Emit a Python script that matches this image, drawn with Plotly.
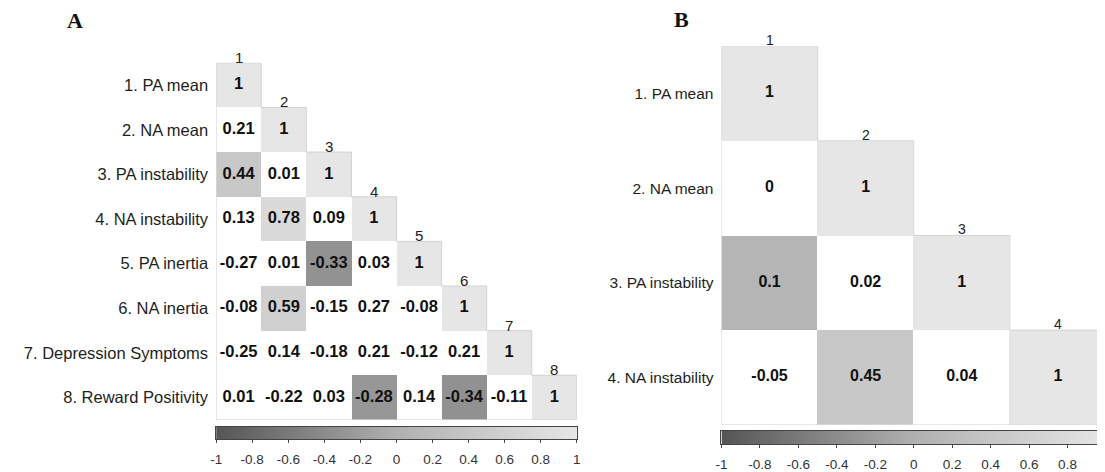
import numpy as np
import plotly.graph_objects as go

# ---------------- data ----------------
labels_a = ["1. PA mean", "2. NA mean", "3. PA instability", "4. NA instability",
            "5. PA inertia", "6. NA inertia", "7. Depression Symptoms", "8. Reward Positivity"]
corr_a = [
    [1],
    [0.21, 1],
    [0.44, 0.01, 1],
    [0.13, 0.78, 0.09, 1],
    [-0.27, 0.01, -0.33, 0.03, 1],
    [-0.08, 0.59, -0.15, 0.27, -0.08, 1],
    [-0.25, 0.14, -0.18, 0.21, -0.12, 0.21, 1],
    [0.01, -0.22, 0.03, -0.28, 0.14, -0.34, -0.11, 1],
]
# 1 = cell shaded (significant), 0 = left white
sig_a = [
    [1],
    [0, 1],
    [1, 0, 1],
    [0, 1, 0, 1],
    [0, 0, 1, 0, 1],
    [0, 1, 0, 0, 0, 1],
    [0, 0, 0, 0, 0, 0, 1],
    [0, 0, 0, 1, 0, 1, 0, 1],
]

labels_b = ["1. PA mean", "2. NA mean", "3. PA instability", "4. NA instability"]
corr_b = [
    [1],
    [0, 1],
    [0.1, 0.02, 1],
    [-0.05, 0.45, 0.04, 1],
]
sig_b = [
    [1],
    [0, 1],
    [1, 0, 1],
    [0, 1, 0, 1],
]

cbar_ticks = [-1, -0.8, -0.6, -0.4, -0.2, 0, 0.2, 0.4, 0.6, 0.8, 1]

# ---------------- style ----------------
PAGE_W, PAGE_H = 1105, 472
OFF = 8  # default page body margin of the browser
W, H = PAGE_W - OFF, PAGE_H - OFF
SANS = "Liberation Sans, Arial, sans-serif"
SERIF = "Liberation Serif, Times New Roman, serif"
GRAYSCALE = [[0.0, "#555555"], [0.5, "#b0b0b0"], [1.0, "#e6e6e6"]]


def fx(px):
    return (px - OFF) / W


def fy(py):
    return 1 - (py - OFF) / H


fig = go.Figure()
annotations = []


def add_panel(idx, labels, corr, sig, x0, x1, y0, y1, cell_w, cb_y0, cb_y1,
              lab_size, txt_size, num_size, num_shift):
    n = len(labels)
    xa = "x" if idx == 1 else f"x{idx}"
    ya = "y" if idx == 1 else f"y{idx}"
    cx = "x" + str(idx + 1)
    cy = "y" + str(idx + 1)

    z = [[None] * n for _ in range(n)]
    tx, ty, tt = [], [], []
    for i in range(n):
        for j in range(i + 1):
            v = corr[i][j]
            if sig[i][j]:
                z[i][j] = v
            tx.append(j)
            ty.append(i)
            tt.append(f"{v:g}")

    fig.add_trace(go.Heatmap(z=z, x=list(range(n)), y=list(range(n)), colorscale=GRAYSCALE,
                             zmin=-1, zmax=1, showscale=False, hoverinfo="skip",
                             xaxis=xa, yaxis=ya))
    # staircase outline of the lower triangle
    px_, py_ = [-0.5], [-0.5]
    for i in range(n):
        px_ += [i + 0.5, i + 0.5]
        py_ += [i - 0.5, i + 0.5]
    px_ += [-0.5, -0.5]
    py_ += [n - 0.5, -0.5]
    fig.add_trace(go.Scatter(x=px_, y=py_, mode="lines", line=dict(color="#d2d2d2", width=1),
                             hoverinfo="skip", showlegend=False, xaxis=xa, yaxis=ya))
    fig.add_trace(go.Scatter(x=tx, y=ty, mode="text", text=tt,
                             textfont=dict(family=SANS, size=txt_size, color="#111111", weight="bold"),
                             hoverinfo="skip", showlegend=False, xaxis=xa, yaxis=ya))

    xr_end = -0.5 + (x1 - x0) / cell_w
    lay_x = dict(domain=[fx(x0), fx(x1)], range=[-0.5, xr_end], anchor=ya,
                 showticklabels=False, showgrid=False, zeroline=False, showline=False,
                 fixedrange=True)
    lay_y = dict(domain=[fy(y1), fy(y0)], range=[n - 0.5, -0.5], anchor=xa,
                 tickmode="array", tickvals=list(range(n)), ticktext=labels,
                 tickfont=dict(family=SANS, size=lab_size, color="#1e1e1e"),
                 ticks="", ticklabelstandoff=7, showgrid=False, zeroline=False,
                 showline=False, fixedrange=True)
    fig.layout[("xaxis" if idx == 1 else f"xaxis{idx}")] = lay_x
    fig.layout[("yaxis" if idx == 1 else f"yaxis{idx}")] = lay_y

    for i in range(n):
        annotations.append(dict(x=i, y=i - 0.5, xref=xa, yref=ya, text=str(i + 1),
                                showarrow=False, yanchor="bottom", yshift=num_shift,
                                font=dict(family=SANS, size=num_size, color="#222222")))

    # colour bar as a gradient strip on its own axis
    edges = np.linspace(-1, 1, 257)
    mids = (edges[:-1] + edges[1:]) / 2
    fig.add_trace(go.Heatmap(z=[mids], x=edges, y=[0, 1], colorscale=GRAYSCALE, zmin=-1, zmax=1,
                             showscale=False, hoverinfo="skip", xaxis=cx, yaxis=cy))
    full_w = n * cell_w  # colour bar spans the full matrix width
    cb_end = -1 + 2 * (x1 - x0) / full_w
    clipped = cb_end < 0.999
    fig.layout["xaxis" + str(idx + 1)] = dict(
        domain=[fx(x0), fx(x1)], range=[-1, cb_end], anchor=cy,
        tickmode="array", tickvals=cbar_ticks, ticktext=[f"{t:g}" for t in cbar_ticks],
        ticks="outside", ticklen=3, tickcolor="#444444", tickwidth=1,
        ticklabelstandoff=4,
        tickfont=dict(family=SANS, size=13.5, color="#333333"),
        showline=True, linecolor="#444444", linewidth=1, mirror=True,
        showgrid=False, zeroline=False, fixedrange=True)
    fig.layout["yaxis" + str(idx + 1)] = dict(
        domain=[fy(cb_y1), fy(cb_y0)], range=[0, 1], anchor=cx,
        showticklabels=False, ticks="", showgrid=False, zeroline=False,
        showline=True, linecolor="#444444", linewidth=1, mirror=not clipped,
        fixedrange=True)


add_panel(1, labels_a, corr_a, sig_a, 212, 576, 64, 429, 45.5, 436, 449,
          lab_size=16.5, txt_size=16.5, num_size=15, num_shift=-5)
add_panel(3, labels_b, corr_b, sig_b, 722, 1105, 47, 434, 97, 440, 454,
          lab_size=15.5, txt_size=16, num_size=14, num_shift=-4)

annotations.append(dict(x=fx(70), y=fy(21), xref="paper", yref="paper", text="<b>A</b>",
                        showarrow=False, xanchor="center", yanchor="middle",
                        font=dict(family=SERIF, size=22, color="#111111")))
annotations.append(dict(x=fx(682), y=fy(20), xref="paper", yref="paper", text="<b>B</b>",
                        showarrow=False, xanchor="center", yanchor="middle",
                        font=dict(family=SERIF, size=22, color="#111111")))

fig.update_layout(width=W, height=H, margin=dict(l=0, r=0, t=0, b=0),
                  paper_bgcolor="white", plot_bgcolor="white", showlegend=False,
                  annotations=annotations)

fig.write_html("out.html", config={"displayModeBar": False})
